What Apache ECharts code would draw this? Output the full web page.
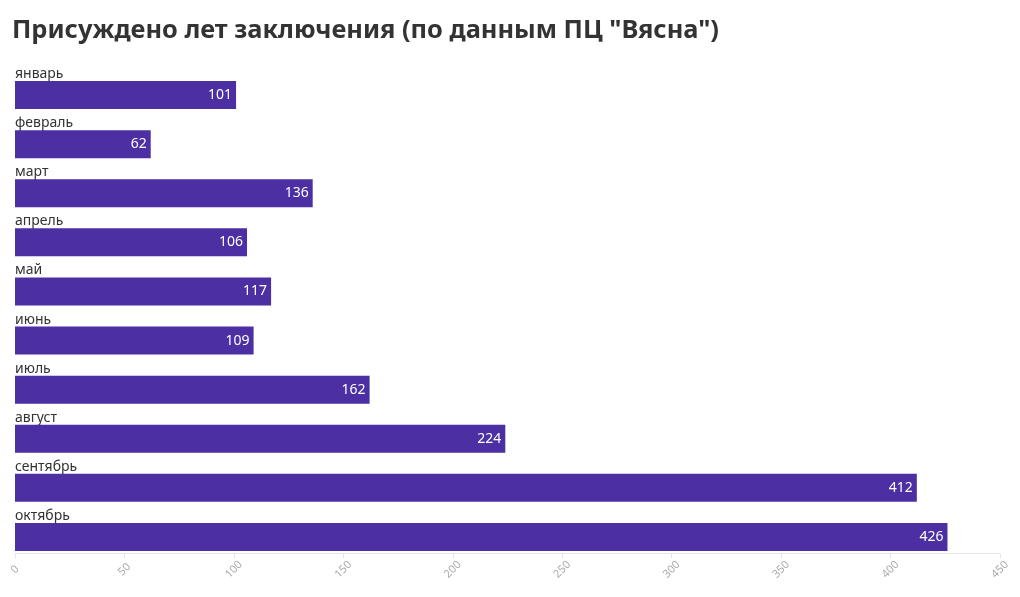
<!DOCTYPE html>
<html><head><meta charset="utf-8">
<script src="https://cdn.jsdelivr.net/npm/echarts@6/dist/echarts.min.js"></script>
<style>html,body{margin:0;padding:0;background:#fff}#c{width:1020px;height:597px}</style>
</head><body><div id="c"></div>
<script>
const titleText = 'Присуждено лет заключения (по данным ПЦ "Вясна")';
const categories = ['январь','февраль','март','апрель','май','июнь','июль','август','сентябрь','октябрь'];
const values = [101, 62, 136, 106, 117, 109, 162, 224, 412, 426];
const xTicks = [0, 50, 100, 150, 200, 250, 300, 350, 400, 450];

const chart = echarts.init(document.getElementById('c'));
chart.setOption({
  animation: false,
  title: {
    text: titleText, left: 7, top: 13,
    textStyle: { fontFamily: 'Noto Sans', fontWeight: 'bold', fontSize: 25.4, color: '#333' }
  },
  grid: { left: 15, right: 20, top: 70.5, bottom: 35.5, containLabel: false },
  xAxis: {
    type: 'value', min: xTicks[0], max: xTicks[xTicks.length-1], interval: 50,
    offset: -8,
    axisLine: { show: true, lineStyle: { color: '#e6e6e6' } },
    axisTick: { show: true, length: 5, lineStyle: { color: '#e6e6e6' } },
    splitLine: { show: false },
    axisLabel: { rotate: 45, align: 'center', verticalAlign: 'middle', color: '#aaa', fontSize: 11, fontFamily: 'Noto Sans', margin: 16 }
  },
  yAxis: {
    type: 'category', data: categories, inverse: true,
    axisLine: { show: false }, axisTick: { show: false },
    axisLabel: {
      inside: true, margin: 0, align: 'left', verticalAlign: 'bottom',
      padding: [0, 0, 14, 0],
      color: '#333', fontSize: 14, fontFamily: 'Noto Sans'
    }
  },
  series: [{
    type: 'bar', data: values, barCategoryGap: '43%',
    itemStyle: { color: '#4b2fa3' },
    label: { show: true, position: 'insideRight', distance: 4, color: '#fff', fontSize: 14, fontFamily: 'Noto Sans' }
  }]
});
</script></body></html>
